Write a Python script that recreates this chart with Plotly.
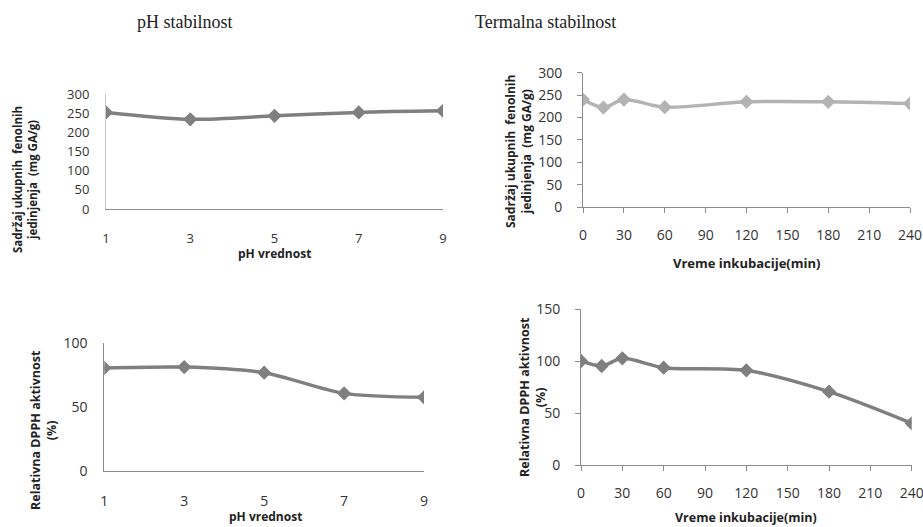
import plotly.graph_objects as go

# ---- data ----
ph_values = [1, 3, 5, 7, 9]
ph_phenol = [252, 234, 243, 252, 256]
ph_dpph = [80.3, 81, 76.6, 60.5, 57.4]

time_min = [0, 15, 30, 60, 120, 180, 240]
time_phenol = [240, 222, 240, 223, 235, 235, 231]
time_dpph = [100, 95.2, 102.6, 93.6, 91, 70.5, 40.1]

ph_ticks = [1, 3, 5, 7, 9]
time_ticks = [0, 30, 60, 90, 120, 150, 180, 210, 240]

W, H = 923, 527
def dx(a, b):
    return [a / W, b / W]
def dy(top, bottom):
    return [1 - bottom / H, 1 - top / H]

DARK = "#7f7f7f"
LIGHT = "#b3b3b3"
AXIS = "#8c8c8c"
SANS = "Open Sans, Liberation Sans, sans-serif"
TICKFONT = dict(family=SANS, size=13, color="#333333")

fig = go.Figure()

def add_trace(x, y, xa, ya, color):
    fig.add_trace(go.Scatter(
        x=x, y=y, xaxis=xa, yaxis=ya, mode="lines+markers",
        line=dict(color=color, width=3.5, shape="spline", smoothing=0.8),
        marker=dict(symbol="diamond", size=11, color=color),
        showlegend=False, hoverinfo="x+y"))

add_trace(ph_values, ph_phenol, "x", "y", DARK)
add_trace(time_min, time_phenol, "x2", "y2", LIGHT)
add_trace(ph_values, ph_dpph, "x3", "y3", DARK)
add_trace(time_min, time_dpph, "x4", "y4", DARK)

def xax(domain, rng, ticks, anchor, tickson, fs):
    d = dict(domain=domain, range=rng, tickvals=ticks, anchor=anchor,
             showgrid=False, zeroline=False, showline=True, linecolor=AXIS, linewidth=1,
             tickfont=dict(TICKFONT, size=fs), fixedrange=True, automargin=False,
             ticklabeloverflow="allow")
    if tickson:
        d.update(ticks="outside", ticklen=5, tickcolor=AXIS, ticklabelstandoff=10)
    else:
        d.update(ticks="", ticklabelstandoff=17)
    return d

def yax(domain, rng, dtick, anchor, tickson, fs, linecolor=AXIS):
    d = dict(domain=domain, range=rng, dtick=dtick, anchor=anchor,
             showgrid=False, zeroline=False, showline=True, linecolor=linecolor, linewidth=1,
             tickfont=dict(TICKFONT, size=fs), fixedrange=True, automargin=False,
             ticklabeloverflow="allow")
    if tickson:
        d.update(ticks="outside", ticklen=5, tickcolor=AXIS, ticklabelstandoff=12)
    else:
        d.update(ticks="", ticklabelstandoff=13)
    return d

fig.update_layout(
    width=W, height=H, margin=dict(l=0, r=0, t=0, b=0, autoexpand=False),
    paper_bgcolor="white", plot_bgcolor="white",
    xaxis=xax(dx(106, 443), [1, 9], ph_ticks, "y", False, 13),
    yaxis=yax(dy(94, 209), [0, 300], 50, "x", False, 13, "#c8c8c8"),
    xaxis2=xax(dx(583, 910), [0, 240], time_ticks, "y2", True, 14),
    yaxis2=yax(dy(72.7, 207), [0, 300], 50, "x2", True, 14),
    xaxis3=xax(dx(104.3, 424), [1, 9], ph_ticks, "y3", False, 14),
    yaxis3=yax(dy(342.7, 471), [0, 100], 50, "x3", False, 14),
    xaxis4=xax(dx(581, 911.7), [0, 240], time_ticks, "y4", True, 14),
    yaxis4=yax(dy(309, 465), [0, 150], 50, "x4", True, 14),
)

def ann(text, x, y, size, angle=0, family=SANS):
    fig.add_annotation(text=text, x=x / W, y=1 - y / H, xref="paper", yref="paper",
                       showarrow=False, textangle=angle, xanchor="center", yanchor="middle",
                       font=dict(family=family, size=size, color="#222222"))

SERIF = "Liberation Serif, Times New Roman, serif"
ann("pH stabilnost", 185, 22, 18, family=SERIF)
ann("Termalna stabilnost", 545, 22, 18, family=SERIF)

ann("<b>pH vrednost</b>", 274, 253, 12)
ann("<b>Vreme inkubacije(min)</b>", 746, 263, 13)
ann("<b>pH vrednost</b>", 265, 516, 12)
ann("<b>Vreme inkubacije(min)</b>", 746, 517, 12.5)

ann("<b>Sadržaj ukupnih  fenolnih<br>jedinjenja  (mg GA/g)</b>", 25, 180, 11.5, angle=-90)
ann("<b>Sadržaj ukupnih  fenolnih<br>jedinjenja  (mg GA/g)</b>", 518, 152, 12, angle=-90)
ann("<b>Relativna DPPH aktivnost<br>(%)</b>", 43, 430, 12.5, angle=-90)
ann("<b>Relativna DPPH aktivnost<br>(%)</b>", 532, 397, 12.5, angle=-90)

fig.write_html("out.html", config={"displayModeBar": False},
               post_script="document.body.style.margin='0';document.body.style.overflow='hidden';")
